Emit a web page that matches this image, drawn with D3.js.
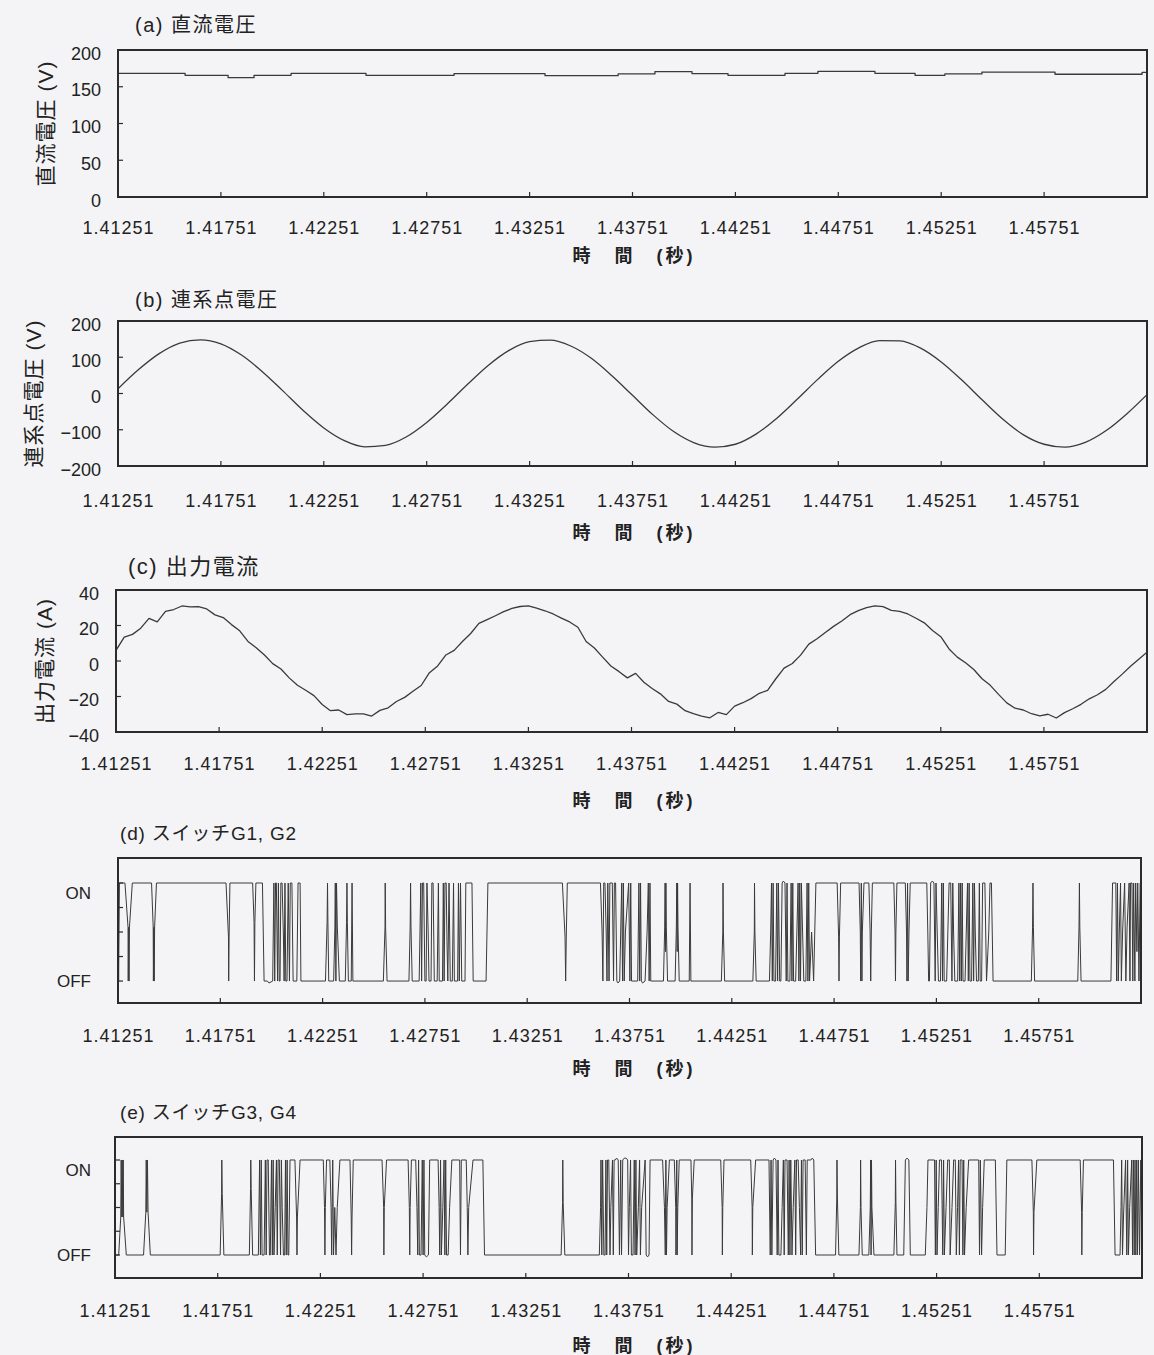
<!DOCTYPE html>
<html><head><meta charset="utf-8">
<script src="https://cdn.jsdelivr.net/npm/d3@7"></script>
<style>
body{margin:0;background:#f4f4f6;}
svg{display:block;}
text{fill:#222;}
</style>
</head><body>
<svg id="chart" width="1154" height="1355"></svg>
<script>
// ---------- DATA ----------
const T0 = 1.41251;           // start of time axis (s)
const SPAN_MS = 50;           // visible window (ms)
const xTickLabels = ["1.41251","1.41751","1.42251","1.42751","1.43251","1.43751","1.44251","1.44751","1.45251","1.45751"];

// (a) DC voltage: step segments (start time in ms from T0, volts)
const dcTimeMs = [0,3.26,5.35,6.61,8.41,12.05,16.33,20.75,24.30,26.09,27.89,29.64,32.41,34.01,36.78,38.73,40.18,41.98,45.53,49.76,50];
const dcVolt   = [168.3,165.6,162.4,165.6,168.3,165.6,167.9,165.1,167.4,170.6,167.9,165.6,168.3,171,168.3,165.6,167.4,170,167,169.5,169.5];

// (b) grid-point voltage, sampled every 1 ms
const acStepMs = 1;
const acVolt = [13,66,110,139,148,137,106,61,8,-47,-95,-130,-147,-143,-120,-80,-29,26,78,119,143,147,131,97,49,-5,-59,-105,-136,-148,-140,-112,-69,-16,39,89,126,146,145,125,87,37,-18,-71,-114,-140,-148,-135,-103,-57,-3];

// (c) output current, sampled every 0.4 ms
const iStepMs = 0.4;
const outCurrent = [6,13.5,15,18.5,24,22,28,29,31,30.5,30.6,29.3,26,24.5,20.5,17,11,7.5,3.4,-1.5,
 -4.5,-9.5,-13.7,-16.5,-19.5,-24.5,-28,-27.6,-30.2,-29.8,-29.8,-31,-27.8,-26.4,-22.8,-20.5,-17,-13.8,-6.6,-2.8,
 3.4,6,11,15.5,21.2,23.3,25.5,27.8,29.6,30.7,31.1,29.8,28.3,26.5,24.2,22,19,11,7.3,2.2,
 -2.8,-6,-9.5,-7,-12,-15.5,-18.5,-22.8,-24.3,-28,-29.7,-31,-32,-29,-30.2,-25.4,-23.5,-21.2,-18.2,-16.5,
 -10,-4,-1.4,3.3,9.5,12.5,16,19.5,22.5,26.1,28.4,30.1,31.1,30.6,28.5,28,26.5,24.1,21.5,17.2,
 13.7,6.8,2.2,-1,-4.8,-10,-13.7,-18.8,-23.6,-26.6,-27.6,-29.7,-30.9,-30,-32.1,-29.1,-26.9,-24.4,-21.3,-19,
 -16,-11.5,-7.4,-3,1,5];

// (d) switch G1,G2 trace vertices [ms from T0, level] (ON = 1, OFF = 0)
const switchG12 = [
 [0,1],[0.03,0],[0.07,1],
 [0.34,1],[0.49,0.55],[0.50,0],[0.52,0.55],[0.54,0],[0.56,0.55],[0.70,1],
 [1.64,1],[1.72,0.55],[1.73,0],[1.75,0.55],[1.77,0],[1.79,0.55],[1.88,1],
 [5.28,1],[5.40,0.45],[5.41,0],[5.43,0.45],[5.47,1],
 [6.58,1],[6.65,0.6],[6.67,0],[6.69,0.6],[6.74,1],
 [7.06,1],[7.14,0],[7.30,0],[7.38,-0.02],[7.56,0],[7.62,1],[7.66,0],[7.70,1],[7.74,1],[7.80,0],[7.84,1],[7.88,0],[7.92,0],[7.96,1],[8.02,1],[8.08,0.5],[8.12,0],[8.16,1],[8.20,0],[8.26,0],[8.32,1],[8.38,0],[8.42,1],[8.50,1],[8.56,0],[8.74,0],[8.80,1],[8.90,1],[8.94,0],
 [10.14,0],[10.22,0.6],[10.24,1],[10.26,0.6],[10.30,0],
 [10.54,0],[10.60,0.55],[10.62,1],[10.65,0],[10.68,1],[10.72,0.55],[10.82,0],
 [11.11,0],[11.17,0.6],[11.19,1],[11.21,0.6],[11.26,0],
 [11.40,0],[11.44,1],[11.48,0],
 [12.97,0],[13.05,0.55],[13.06,1],[13.08,0.55],[13.15,0],
 [14.22,0],[14.28,0.55],[14.30,1],[14.32,0.55],[14.38,0],
 [14.72,0],[14.80,1],[14.84,0],[14.88,1],[14.94,1],[15.00,0],[15.06,0],[15.10,1],[15.16,0.5],[15.20,0],[15.30,0],[15.34,1],[15.40,1],[15.46,0],[15.60,0],[15.66,1],[15.70,0],[15.86,0],[15.90,1],[15.94,0],[15.98,1],[16.04,1],[16.08,0.4],[16.12,0],[16.18,1],[16.24,0],[16.34,0],[16.40,1],[16.44,0],[16.60,0],[16.64,1],[16.68,0],[16.74,1],[16.80,0],[16.96,0],[17.00,1],[17.30,1],[17.36,0],
 [17.99,0],[18.08,1],
 [21.72,1],[21.85,0.45],[21.88,0],[21.91,0.45],[21.96,1],
 [23.58,1],[23.66,0.5],[23.70,0],[23.74,1],[23.80,1],[23.86,0.5],[23.90,0],[23.94,1],[24.00,0],[24.04,1],[24.16,1],[24.22,0],[24.26,1],[24.32,1],[24.38,0],[24.44,-0.02],[24.52,0],[24.62,1],[24.66,0],[24.70,1],[24.74,0],[24.80,0.5],[24.96,1],[25.02,0],[25.06,1],[25.10,0],
 [25.40,0],[25.46,1],[25.50,0],[25.54,1],[25.58,0],[25.64,-0.02],[25.76,0],[25.86,0.5],[25.92,1],[25.96,0],[26.00,1],[26.04,0],
 [26.66,0],[26.72,0.55],[26.74,1],[26.76,0.3],[26.78,1],[26.80,0.55],[26.86,0],
 [27.23,0],[27.29,0.55],[27.31,1],[27.33,0.3],[27.35,1],[27.37,0.55],[27.43,0],
 [27.92,0],[27.96,1],[28.00,0],
 [29.49,0],[29.56,0.5],[29.57,1],[29.59,0.5],[29.65,0],
 [31.03,0],[31.10,0.5],[31.11,1],[31.13,0.5],[31.19,0],
 [31.84,0],[31.90,0.5],[31.94,1],[31.98,0],[32.02,1],[32.06,0],[32.14,0],[32.20,1],[32.24,0],[32.28,1],[32.34,0],[32.40,0],[32.46,1],[32.52,1.02],[32.60,1],[32.66,0],[32.70,1],[32.74,0],[32.84,0],[32.90,1],[32.94,0],[32.98,1],[33.02,0],[33.12,0],[33.18,0.5],[33.24,1],[33.28,0],[33.32,1],[33.36,0],[33.40,1],[33.46,0.5],[33.52,0],[33.62,0],[33.68,1],[33.72,0],[33.76,1],[33.80,0],[33.90,0.5],[34.00,0],[34.11,1],
 [35.15,1],[35.22,0.45],[35.24,0],[35.26,0.45],[35.32,1],
 [36.22,1],[36.28,0.5],[36.30,0],[36.33,1],[36.36,0],[36.38,0.5],[36.46,1],
 [36.70,1],[36.76,0.5],[36.79,0],[36.82,0.5],[36.87,1],
 [37.92,1],[37.98,0.5],[38.00,0],[38.02,0.5],[38.07,1],
 [38.48,1],[38.54,0.5],[38.56,0],[38.59,1],[38.62,0],[38.66,0.5],[38.72,1],
 [39.53,1],[39.58,0.5],[39.62,0],[39.66,0],[39.72,1],[39.80,1.02],[39.88,1],[39.94,0],[39.98,1],[40.04,0.5],[40.10,0],[40.20,0],[40.26,1],[40.30,0],[40.34,1],[40.38,0],[40.50,0],[40.56,0.5],[40.62,1],[40.70,1],[40.76,0],[40.80,1],[40.84,0.5],[40.90,0],[41.04,0],[41.10,1],[41.14,0],[41.18,1],[41.22,0],[41.26,1],[41.30,0],[41.40,0],[41.46,0.5],[41.52,1],[41.56,0],[41.60,1],[41.64,0],[41.72,0],[41.78,1],[41.82,0],[41.86,1],[41.90,0.5],[41.96,0],[42.05,0],[42.10,1],[42.14,0],[42.21,0],[42.26,1],[42.37,1],[42.45,0],[42.56,0.5],[42.62,1],[42.69,1],[42.77,0],
 [44.64,0],[44.70,0.55],[44.72,1],[44.74,0.55],[44.80,0],
 [46.91,0],[46.97,0.55],[46.99,1],[47.01,0.55],[47.07,0],
 [48.53,0],[48.61,1],[48.77,1],[48.81,0],[48.85,1],[48.89,0],[48.94,0.5],[49.00,1],[49.04,0],[49.10,0.5],[49.20,1],[49.26,0],[49.32,0.55],[49.42,1],[49.46,0],[49.49,1],[49.56,1],[49.60,0],[49.64,1],[49.70,0],[49.74,1],[49.80,0.3],[49.84,1],[49.90,0],[49.96,1],[50,1]
];

// (e) switch G3,G4 trace vertices [ms from T0, level]
const switchG34 = [
 [0,1],[0.02,0],[0.18,0],[0.28,0.4],[0.30,1],[0.33,0.4],[0.35,1],[0.38,0.4],[0.40,1],[0.42,0.4],[0.55,0],
 [1.39,0],[1.50,0.45],[1.52,1],[1.55,0.45],[1.58,1],[1.61,0.45],[1.72,0],
 [5.12,0],[5.19,0.65],[5.20,1],[5.22,0.65],[5.30,0],
 [6.54,0],[6.60,0.7],[6.61,1],[6.63,0.7],[6.70,0],
 [6.98,0],[7.04,1],[7.08,0],[7.12,1],[7.16,0],[7.26,0],[7.32,1],[7.36,0],[7.40,1],[7.46,1],[7.52,0],[7.56,0],[7.62,1],[7.66,0],[7.70,1],[7.74,0],[7.80,0.5],[7.86,1],[7.90,0],[7.94,1],[8.00,1],[8.06,0],[8.10,1],[8.14,0.5],[8.20,0],[8.26,0],[8.30,1],[8.34,0],[8.38,1],[8.42,0],[8.46,0],[8.52,1],[8.76,1],[8.84,0.4],[8.86,0],[8.88,0.4],[9.01,1],
 [10.14,1],[10.20,0.5],[10.22,0],[10.24,0.5],[10.30,1],[10.46,1],[10.52,0.5],[10.55,0],[10.60,1],[10.64,0],[10.70,0.5],[10.76,0],[10.82,0.5],[10.95,1],
 [11.44,1],[11.50,0.4],[11.52,0],[11.54,0.4],[11.60,1],
 [13.00,1],[13.08,0.5],[13.09,0],[13.11,0.5],[13.22,1],
 [14.27,1],[14.33,0.5],[14.35,0],[14.37,0.5],[14.43,1],
 [14.64,1],[14.70,0.5],[14.74,0],[14.78,1],[14.82,0],[14.90,0],[14.96,1],[15.00,0],[15.04,1],[15.08,0],[15.16,-0.02],[15.26,0],[15.32,1],
 [15.73,1],[15.78,0.5],[15.81,0],[15.85,1],[15.89,0],[15.96,0.5],[16.02,1],[16.06,0],[16.10,1],[16.14,0],[16.22,0],[16.29,0.5],[16.40,1],
 [16.78,1],[16.82,0],[16.86,1],
 [17.10,1],[17.15,0.5],[17.18,0],[17.22,0.5],[17.43,1],
 [17.91,1],[17.99,0],
 [21.72,0],[21.79,0.55],[21.80,1],[21.82,0.55],[21.90,0],
 [23.58,0],[23.64,0.5],[23.66,1],[23.70,0],[23.74,1],[23.80,0],[23.86,0],[23.90,1],[23.94,0],[23.98,1],[24.04,1],[24.10,0],[24.14,0.5],[24.22,1],[24.26,0],[24.30,1],[24.36,1],[24.42,1.02],[24.50,1],[24.56,0],[24.62,1],[24.66,0],[24.72,1],[24.80,1.02],[24.88,1.02],[24.96,1],[25.00,0],[25.04,0.5],[25.10,1],[25.14,0],[25.22,0],[25.28,1],[25.32,0],[25.36,1],[25.40,0],[25.48,0.5],[25.54,1],[25.58,0],[25.64,0.5],[25.81,1],[25.86,0],[25.93,-0.02],[26.00,0],[26.05,1],
 [26.66,1],[26.75,0.5],[26.79,0],[26.82,1],[26.85,0],[26.88,0.5],[26.99,1],
 [27.23,1],[27.30,0.5],[27.31,0],[27.35,1],[27.37,0],[27.40,0.5],[27.47,1],
 [28.04,1],[28.08,0.6],[28.09,0],[28.11,0.6],[28.20,1],
 [29.49,1],[29.56,0.5],[29.57,0],[29.59,0.5],[29.65,1],
 [30.95,1],[31.02,0.5],[31.03,0],[31.05,0.5],[31.19,1],
 [31.84,1],[31.90,0],[31.94,1],[31.98,0],[32.04,1],[32.10,1.02],[32.18,1],[32.24,0],[32.28,1],[32.32,0],[32.42,0],[32.48,0.5],[32.54,1],[32.58,0],[32.62,1],[32.72,1],[32.78,0],[32.82,1],[32.86,0],[32.90,1],[32.96,0],[33.02,0.5],[33.10,1],[33.14,0],[33.18,1],[33.26,1],[33.32,0.5],[33.38,0],[33.42,1],[33.46,0],[33.50,1],[33.60,1],[33.66,0],[33.70,1],[33.88,1],[33.95,1.02],[34.02,1],[34.11,0],
 [35.08,0],[35.14,0.6],[35.15,1],[35.17,0.6],[35.24,0],
 [36.22,0],[36.29,0.5],[36.30,1],[36.32,0.5],[36.38,0],
 [36.70,0],[36.77,0.5],[36.79,1],[36.81,0],[36.83,1],[36.85,0.5],[36.95,0],
 [37.92,0],[37.99,0.55],[38.00,1],[38.02,0.55],[38.07,0],
 [38.40,0],[38.48,1],[38.56,1.02],[38.65,1],[38.72,0],
 [39.45,0],[39.53,0.5],[39.58,1],[39.90,1],[39.94,0],[39.98,1],[40.02,0],[40.08,0.5],[40.14,1],[40.24,1],[40.30,0],[40.34,1],[40.38,0],[40.46,0.5],[40.54,1],[40.62,1],[40.66,0],[40.75,0.5],[40.83,1],[40.91,1],[40.96,0],[41.02,0.5],[41.07,1],[41.11,0],[41.15,1],[41.24,1],[41.28,0],[41.32,1],[41.36,0],[41.44,0.5],[41.56,1],[42.05,1],[42.09,0],[42.13,1],[42.19,0],[42.24,0.5],[42.32,1],[42.86,1],[42.94,0],
 [43.34,0],[43.42,1],
 [44.64,1],[44.71,0.45],[44.72,0],[44.74,0.45],[44.88,1],
 [46.99,1],[47.06,0.45],[47.07,0],[47.09,0.45],[47.15,1],
 [48.61,1],[48.69,0],[48.93,0],[48.98,0.5],[49.01,1],[49.05,0],[49.10,0.4],[49.20,1],[49.26,0],[49.30,1],[49.34,0],[49.40,0.5],[49.50,1],[49.54,0],[49.58,1],[49.62,0],[49.66,1],[49.70,0],[49.74,1],[49.78,0],[49.82,1],[49.88,0],[49.94,1],[50,0]
];

const switchTickValues = [0, 0.25, 0.5, 0.75, 1];
const switchTickLabels = ["OFF", "", "", "", "ON"];

const titles = ["(a) 直流電圧", "(b) 連系点電圧", "(c)  出力電流", "(d) スイッチG1, G2", "(e) スイッチG3, G4"];
const yTitles = ["直流電圧 (V)", "連系点電圧 (V)", "出力電流 (A)", "", ""];
const xTitle = "時　間　(秒)";

// ---------- DRAWING ----------
const svg = d3.select("#chart");
const NUM_FONT = "'Liberation Sans', Arial, sans-serif";
const JP_FONT = "'Liberation Sans', 'Noto Sans CJK JP', sans-serif";
const INK = "#2b2b2b";

const toSec = ms => T0 + ms / 1000;
const fmtMinus = v => (v < 0 ? "\u2212" + Math.abs(v) : String(v));

const panels = [
  {id:"a", left:118, right:1147, top:50, bottom:197, yDomain:[0,200], yTicks:[0,50,100,150,200],
   title:titles[0], titleX:135, titleY:32, titleSize:20, titleLS:1.5, yTitle:yTitles[0], yTitleX:45,
   xLabelY:234, xTitleY:262,
   series: dcTimeMs.map((t,i)=>[toSec(t), dcVolt[i]]), curve:d3.curveStepAfter},
  {id:"b", left:118, right:1147, top:321, bottom:466, yDomain:[-200,200], yTicks:[-200,-100,0,100,200],
   title:titles[1], titleX:135, titleY:307, titleSize:20, titleLS:1.5, yTitle:yTitles[1], yTitleX:33,
   xLabelY:507, xTitleY:539,
   series: acVolt.map((v,i)=>[toSec(i*acStepMs), v]), curve:d3.curveMonotoneX},
  {id:"c", left:116, right:1147, top:590, bottom:732, yDomain:[-40,40], yTicks:[-40,-20,0,20,40],
   title:titles[2], titleX:128, titleY:574, titleSize:22, titleLS:1.5, yTitle:yTitles[2], yTitleX:44,
   xLabelY:770, xTitleY:807,
   series: outCurrent.map((v,i)=>[toSec(i*iStepMs), v]), curve:d3.curveLinear},
  {id:"d", left:118, right:1141, top:858, bottom:1003, yDomain:[-0.224,1.255], yTicks:switchTickValues, yLabels:switchTickLabels,
   title:titles[3], titleX:120, titleY:840, titleSize:19, titleLS:0.8, yTitle:"", yTitleX:0,
   xLabelY:1042, xTitleY:1075,
   series: switchG12.map(d=>[toSec(d[0]), d[1]]), curve:d3.curveLinear, thin:true},
  {id:"e", left:115, right:1142, top:1137, bottom:1278, yDomain:[-0.242,1.242], yTicks:switchTickValues, yLabels:switchTickLabels,
   title:titles[4], titleX:120, titleY:1119, titleSize:19, titleLS:0.8, yTitle:"", yTitleX:0,
   xLabelY:1317, xTitleY:1352,
   series: switchG34.map(d=>[toSec(d[0]), d[1]]), curve:d3.curveLinear, thin:true}
];

const xTickVals = xTickLabels.map(Number);

panels.forEach(p => {
  const x = d3.scaleLinear().domain([T0, toSec(SPAN_MS)]).range([p.left, p.right]);
  const y = d3.scaleLinear().domain(p.yDomain).range([p.bottom, p.top]);
  const g = svg.append("g");

  g.append("clipPath").attr("id","clip-"+p.id)
   .append("rect").attr("x",p.left).attr("y",p.top).attr("width",p.right-p.left).attr("height",p.bottom-p.top);

  // data trace
  const line = d3.line().x(d=>x(d[0])).y(d=>y(d[1])).curve(p.curve);
  g.append("path").datum(p.series)
    .attr("clip-path","url(#clip-"+p.id+")")
    .attr("d", line).attr("fill","none")
    .attr("stroke","#3a3a3a").attr("stroke-width", p.thin ? 1.0 : 1.3)
    .attr("stroke-linejoin","round");

  // frame
  g.append("rect").attr("x",p.left).attr("y",p.top).attr("width",p.right-p.left).attr("height",p.bottom-p.top)
    .attr("fill","none").attr("stroke",INK).attr("stroke-width",2);

  // inward x ticks
  g.selectAll(".xt").data(xTickVals.slice(1)).enter().append("line")
    .attr("x1",d=>x(d)).attr("x2",d=>x(d)).attr("y1",p.bottom).attr("y2",p.bottom-5)
    .attr("stroke",INK).attr("stroke-width",1.2);
  // inward y ticks
  g.selectAll(".yt").data(p.yTicks).enter().append("line")
    .attr("x1",p.left).attr("x2",p.left+5).attr("y1",d=>y(d)).attr("y2",d=>y(d))
    .attr("stroke",INK).attr("stroke-width",1.2);

  // x tick labels
  g.selectAll(".xl").data(xTickVals).enter().append("text")
    .attr("x",d=>x(d)+0.5).attr("y",p.xLabelY)
    .attr("text-anchor","middle").style("font-family",NUM_FONT).style("font-size","18px")
    .style("letter-spacing","1px")
    .text((d,i)=>xTickLabels[i]);

  // y tick labels
  if (p.yLabels) {
    g.selectAll(".yl").data(p.yTicks).enter().append("text")
      .attr("x", 91).attr("y", d => y(d) + (d === 1 ? 16 : 6))
      .attr("text-anchor","end").style("font-family",NUM_FONT).style("font-size","17px")
      .text((d,i)=>p.yLabels[i]);
  } else {
    g.selectAll(".yl").data(p.yTicks).enter().append("text")
      .attr("x", p.left-17).attr("y", d => y(d)+9.5)
      .attr("text-anchor","end").style("font-family",NUM_FONT).style("font-size","18px")
      .text(d=>fmtMinus(d));
  }

  // panel title
  g.append("text").attr("x",p.titleX).attr("y",p.titleY)
    .style("font-family",JP_FONT).style("font-size",p.titleSize+"px")
    .style("letter-spacing",p.titleLS+"px")
    .text(p.title);

  // x-axis title
  g.append("text").attr("x",634).attr("y",p.xTitleY).attr("text-anchor","middle")
    .style("font-family",JP_FONT).style("font-size","18px").style("font-weight","bold")
    .style("letter-spacing","3px")
    .text(xTitle);

  // y-axis title
  if (p.yTitle) {
    const yc = (p.top+p.bottom)/2;
    g.append("text").attr("transform",`translate(${p.yTitleX},${yc}) rotate(-90)`)
      .attr("text-anchor","middle").attr("dominant-baseline","central")
      .style("font-family",JP_FONT).style("font-size","21px").style("letter-spacing","1px")
      .text(p.yTitle);
  }
});
</script>
</body></html>
